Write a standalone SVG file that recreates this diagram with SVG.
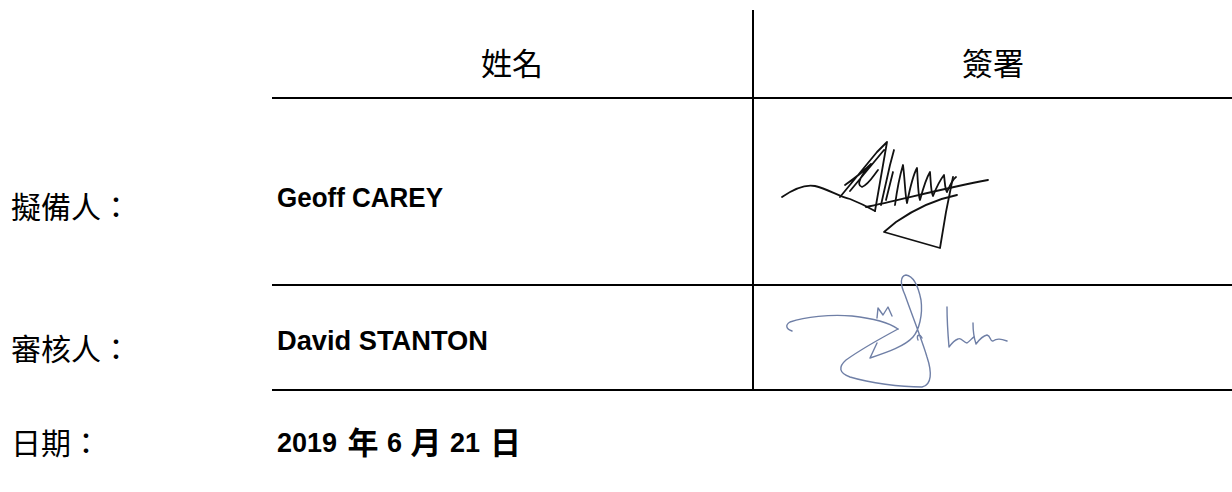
<svg xmlns="http://www.w3.org/2000/svg" width="1232" height="492" viewBox="0 0 1232 492">
<style>
.rule{stroke:#000;stroke-width:2;fill:none}
.cjk{font-family:"Noto Sans CJK TC","Noto Sans CJK SC",sans-serif;font-size:30px;fill:#000}
.name{font-family:"Liberation Sans",Arial,sans-serif;font-weight:bold;font-size:27px;fill:#000}
.cjkb{font-family:"Noto Sans CJK TC","Noto Sans CJK SC",sans-serif;font-weight:bold;font-size:31px;fill:#000}
.sig1{fill:none;stroke:#111;stroke-width:1.8;stroke-linecap:round;stroke-linejoin:round}
.sig2{fill:none;stroke:#6f7fa6;stroke-width:1.4;stroke-linecap:round;stroke-linejoin:round}
</style>
<rect width="1232" height="492" fill="#fff"/>
<g id="grid">
<line class="rule" x1="272" y1="98" x2="1232" y2="98"/>
<line class="rule" x1="272" y1="285" x2="1232" y2="285"/>
<line class="rule" x1="272" y1="390" x2="1232" y2="390"/>
<line class="rule" x1="753" y1="10" x2="753" y2="390"/>
</g>
<g id="header-name"><text class="cjk" x="512" y="75" text-anchor="middle" style="font-size:31px">姓名</text></g>
<g id="header-sign"><text class="cjk" x="993" y="75" text-anchor="middle" style="font-size:31px">簽署</text></g>
<g id="label-prepared"><text class="cjk" x="11" y="218">擬備人：</text></g>
<g id="label-reviewed"><text class="cjk" x="11" y="360">審核人：</text></g>
<g id="label-date"><text class="cjk" x="11" y="454">日期：</text></g>
<g id="name-prepared"><text class="name" x="277" y="207" textLength="166" lengthAdjust="spacingAndGlyphs">Geoff CAREY</text></g>
<g id="name-reviewed"><text class="name" x="277" y="350" textLength="211" lengthAdjust="spacingAndGlyphs">David STANTON</text></g>
<g id="date">
<text class="name" x="277" y="452">2019</text>
<text class="cjkb" x="363" y="454" text-anchor="middle">年</text>
<text class="name" x="387" y="452">6</text>
<text class="cjkb" x="426" y="454" text-anchor="middle">月</text>
<text class="name" x="450" y="452">21</text>
<text class="cjkb" x="505.5" y="454" text-anchor="middle">日</text>
</g>
<g id="signature-carey">
<path class="sig1" d="M782,197 C795,188 805,184 815,186 C828,189 838,196 850,199 C860,203 868,207 875,211"/>
<path class="sig1" d="M840,197 L877,152 L887,142 L875,211 M850,191 L884,150 M845,185 C855,178 865,170 871,164 C862,174 855,185 862,187 C868,185 872,178 878,170"/>
<path class="sig1" d="M881,205 L890,165 L894,150 M886,200 L893,172"/>
<path class="sig1" d="M895,205 C897,190 900,175 903,165 C905,180 905,195 907,203 C910,188 913,175 917,168 C918,182 918,195 920,200 C924,185 927,177 930,172 C931,185 931,193 933,196 C937,186 940,180 944,175 C945,183 945,190 947,192 C950,185 952,180 956,177"/>
<path class="sig1" d="M866,207 C900,200 945,188 988,180"/>
<path class="sig1" d="M953,177 L946,212 L940,248 L884,232 L896,222 C912,211 932,200 957,195"/>
</g>
<g id="signature-stanton">
<path class="sig2" d="M792,331 C786,329 785,325 790,322 C805,317 830,314 852,316 C870,318 888,322 898,329"/>
<path class="sig2" d="M898,329 C885,336 860,350 846,360 C838,367 839,373 850,377 C870,383 900,387 922,387 C932,385 932,372 927,357 C922,340 912,315 905,295 C900,284 900,276 906,275 C913,276 918,285 921,300 C923,315 919,330 913,337 C905,346 888,352 870,358 L877,343"/>
<path class="sig2" d="M877,318 L878,308 L883,315 L888,307 L892,316"/>
<path class="sig2" d="M918,340 C916,335 920,333 922,338"/>
<path class="sig2" d="M947,307 C947,320 948,335 949,347 C952,343 955,340 958,339 C961,337 964,343 967,343 C970,341 972,338 974,337"/>
<path class="sig2" d="M973,323 C973,332 974,338 976,344 C979,340 982,336 987,335 C991,336 990,342 993,341 C997,338 1001,339 1007,341"/>
</g>
</svg>
